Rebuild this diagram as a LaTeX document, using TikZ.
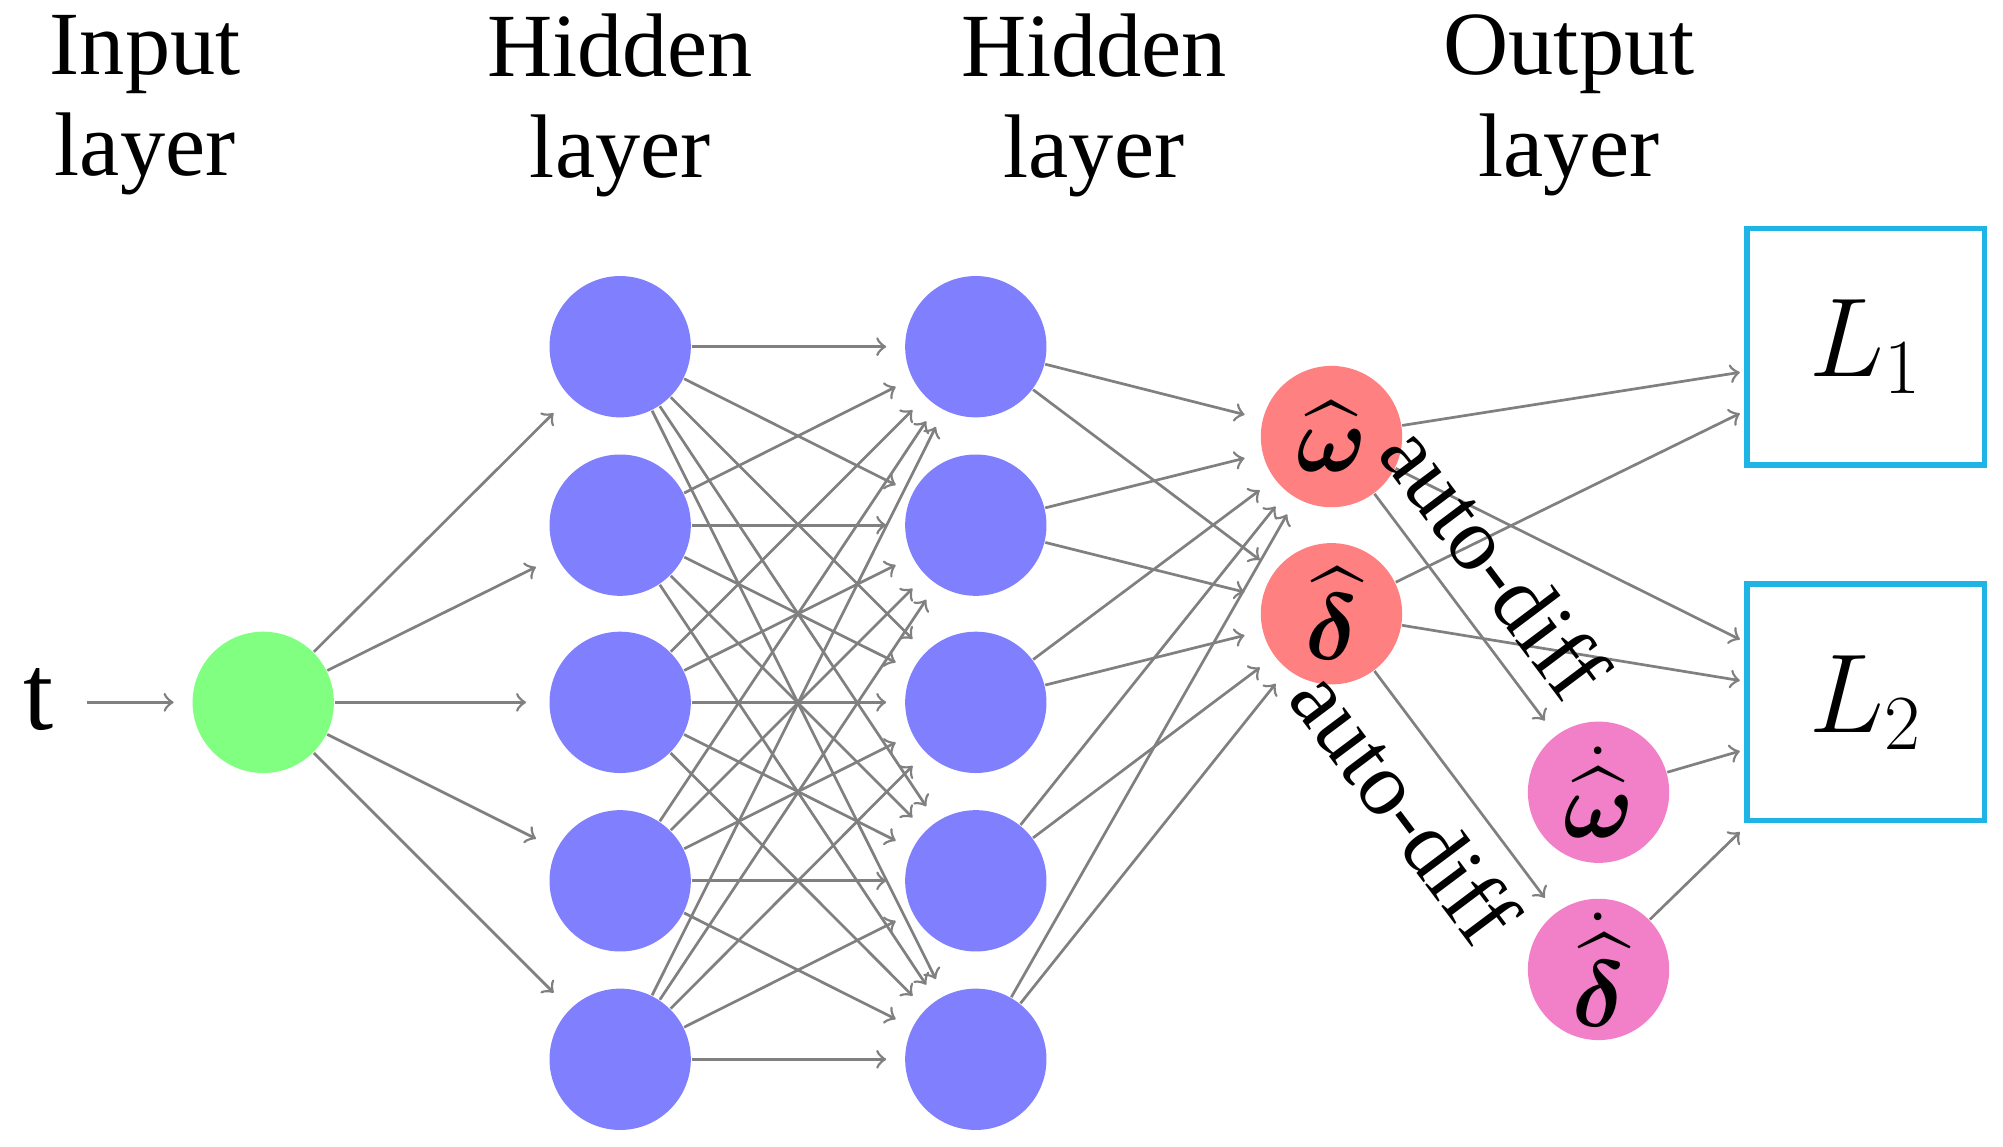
\documentclass[tikz,border=0pt]{standalone}
\usepackage{amsmath,bm}
\usepackage{fontspec}
\setmainfont{Liberation Serif}
\begin{document}
\begin{tikzpicture}[x=0.01cm,y=-0.01cm,
  neuron/.style={circle,draw=none,minimum size=1.1cm,inner sep=0pt,font=\fontsize{22}{26}\selectfont},
  hid/.style={neuron,fill=blue!50},
  conn/.style={draw=gray,line width=0.6pt,->,shorten >=4pt},
  box/.style={draw={rgb,255:red,30;green,180;blue,230},line width=1.3pt,minimum width=1.85cm,minimum height=1.84cm,font=\fontsize{24}{28}\selectfont},
  lab/.style={font=\fontsize{20}{24}\selectfont,inner sep=5pt},
  title/.style={align=center,font=\fontsize{20}{22.5}\selectfont}]
\useasboundingbox (0,0) rectangle (1560,893);
\node[title] (ti) at (113,82) {Input\\layer};
\node[title] (th1) at (483,82) {Hidden\\layer};
\node[title] (th2) at (852,82) {Hidden\\layer};
\node[title] (to) at (1222,82) {Output\\layer};
\node[font=\fontsize{24}{28}\selectfont] (t) at (30,545) {t};
\node[neuron,fill=green!50] (in) at (205,547) {};
\foreach \i/\y in {1/270,2/409,3/547,4/686,5/825}{
  \node[hid] (a\i) at (483,\y) {};
  \node[hid] (b\i) at (760,\y) {};
}
\node[neuron,fill=red!50] (w) at (1037,340) {$\widehat{\bm{\omega}}$};
\node[neuron,fill=red!50] (d) at (1037,478) {$\widehat{\bm{\delta}}$};
\node[neuron,fill={rgb,255:red,242;green,128;blue,200}] (wd) at (1245,617) {$\dot{\widehat{\bm{\omega}}}$};
\node[neuron,fill={rgb,255:red,242;green,128;blue,200}] (dd) at (1245,755) {$\dot{\widehat{\bm{\delta}}}$};
\node[box] (L1) at (1453,270) {$L_1$};
\node[box] (L2) at (1453,547) {$L_2$};
\coordinate (p1) at (1355,290);
\coordinate (p2) at (1355,322);
\coordinate (q1) at (1355,498);
\coordinate (q2) at (1355,530);
\coordinate (q3) at (1355,585);
\coordinate (q4) at (1355,648);
\coordinate (ts) at (68,547);
\draw[conn] (ts) -- (in);
\foreach \i in {1,...,5}{
  \draw[conn,shorten >=5pt] (in) -- (a\i);
  \foreach \j in {1,...,5}{ \draw[conn] (a\i) -- (b\j); }
  \draw[conn] (b\i) -- (w);
  \draw[conn] (b\i) -- (d);
}
\draw[conn,shorten >=0pt] (w) -- (p1);
\draw[conn,shorten >=0pt] (w) -- (q1);
\draw[conn,shorten >=0pt] (d) -- (p2);
\draw[conn,shorten >=0pt] (d) -- (q2);
\draw[conn,shorten >=0pt] (wd) -- (q3);
\draw[conn,shorten >=0pt] (dd) -- (q4);
\draw[conn] (w) -- node[sloped,above,lab,pos=0.42] {auto-diff} (wd);
\draw[conn] (d) -- node[sloped,below,lab,pos=0.42] {auto-diff} (dd);
\end{tikzpicture}
\end{document}
